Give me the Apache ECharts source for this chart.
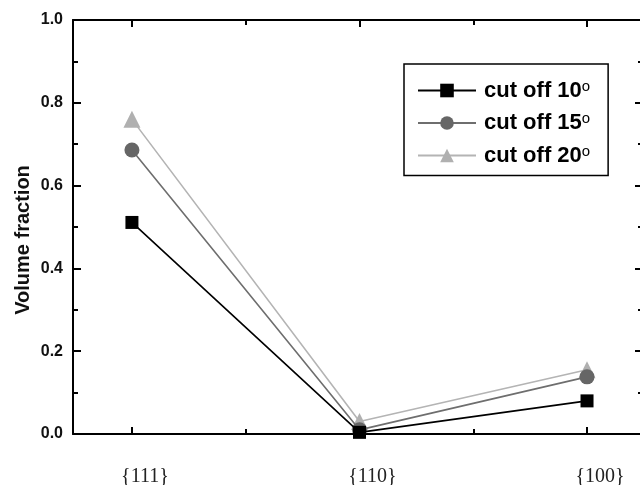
<!DOCTYPE html>
<html>
<head>
<meta charset="utf-8">
<script src="https://cdn.jsdelivr.net/npm/echarts@6/dist/echarts.min.js"></script>
<style>html,body{margin:0;padding:0;background:#fff}#c{width:640px;height:485px}</style>
</head>
<body>
<div id="c"></div>
<script>
const categories = ['{111}', '{110}', '{100}'];
const catPos = [1, 2, 3];
const minorPos = [1.5, 2.5];
const seriesNames = ['cut off 10', 'cut off 15', 'cut off 20'];
const cut10 = [0.511, 0.004, 0.080];
const cut15 = [0.686, 0.010, 0.138];
const cut20 = [0.760, 0.030, 0.155];

const chart = echarts.init(document.getElementById('c'), null, {renderer: 'canvas'});
const xMin = 0.741, xMax = 3.246;
const axisLineStyle = {color: '#000', width: 2};
function xAx(pos, ticks, len, showLabel, showLine) {
  return {
    type: 'value', position: pos, min: xMin, max: xMax,
    axisLine: {show: showLine, onZero: false, lineStyle: axisLineStyle},
    axisTick: {show: true, inside: true, length: len, customValues: ticks, lineStyle: {color: '#000', width: 2}},
    axisLabel: showLabel ? {
      show: true, customValues: catPos, margin: 33, padding: [0, 0, 0, 26],
      formatter: v => categories[catPos.indexOf(Math.round(v))] || '',
      fontFamily: 'Liberation Serif', fontSize: 20, color: '#222'
    } : {show: false},
    splitLine: {show: false}
  };
}
function yAx(pos, showLabel) {
  return {
    type: 'value', position: pos, min: 0, max: 1, interval: 0.2,
    axisLine: {show: true, lineStyle: axisLineStyle},
    axisTick: {show: true, inside: true, length: 8, lineStyle: {color: '#000', width: 2}},
    minorTick: {show: true, splitNumber: 2, length: 5, lineStyle: {color: '#000', width: 2}},
    axisLabel: showLabel ? {
      show: true, margin: 10, formatter: v => v.toFixed(1),
      fontFamily: 'Liberation Sans', fontWeight: 'bold', fontSize: 16, color: '#111'
    } : {show: false},
    splitLine: {show: false},
    name: showLabel ? 'Volume fraction' : '',
    nameLocation: 'middle', nameGap: 40, nameRotate: 90, nameMoveOverlap: false,
    nameTextStyle: {fontFamily: 'Liberation Sans', fontWeight: 'bold', fontSize: 20, color: '#111', padding: [0, 26, 0, 0]}
  };
}
function pts(arr) { return arr.map((v, i) => [catPos[i], v]); }

chart.setOption({
  animation: false,
  backgroundColor: '#fff',
  grid: {left: 73, top: 20, width: 570, height: 414, containLabel: false, outerBoundsMode: 'none'},
  xAxis: [
    xAx('bottom', catPos, 7, true, true),
    xAx('bottom', minorPos, 5, false, false),
    xAx('top', catPos, 7, false, true),
    xAx('top', minorPos, 5, false, false)
  ],
  yAxis: [yAx('left', true), yAx('right', false)],
  legend: {
    orient: 'vertical', left: 404, top: 64,
    data: seriesNames,
    borderColor: '#000', borderWidth: 1.5, borderRadius: 0,
    padding: [15, 18, 9, 13], itemGap: 10,
    itemWidth: 58, itemHeight: 17,
    formatter: n => '{a|' + n + '}{s|o}',
    textStyle: {
      color: '#000',
      rich: {
        a: {fontFamily: 'Liberation Sans', fontWeight: 'bold', fontSize: 22, color: '#000', lineHeight: 23, padding: [0, 0, 0, 3]},
        s: {fontFamily: 'Liberation Sans', fontSize: 15, color: '#000', verticalAlign: 'top', lineHeight: 11}
      }
    }
  },
  series: [
    {name: seriesNames[0], type: 'line', data: pts(cut10), z: 4,
     symbol: 'rect', symbolSize: 13,
     lineStyle: {color: '#000', width: 1.6}, itemStyle: {color: '#000'}},
    {name: seriesNames[1], type: 'line', data: pts(cut15), z: 3,
     symbol: 'circle', symbolSize: 15,
     lineStyle: {color: '#6e6e6e', width: 1.6}, itemStyle: {color: '#666'}},
    {name: seriesNames[2], type: 'line', data: pts(cut20), z: 2,
     symbol: 'triangle', symbolSize: 17,
     lineStyle: {color: '#b4b4b4', width: 1.6}, itemStyle: {color: '#b0b0b0'}}
  ]
});
</script>
</body>
</html>
